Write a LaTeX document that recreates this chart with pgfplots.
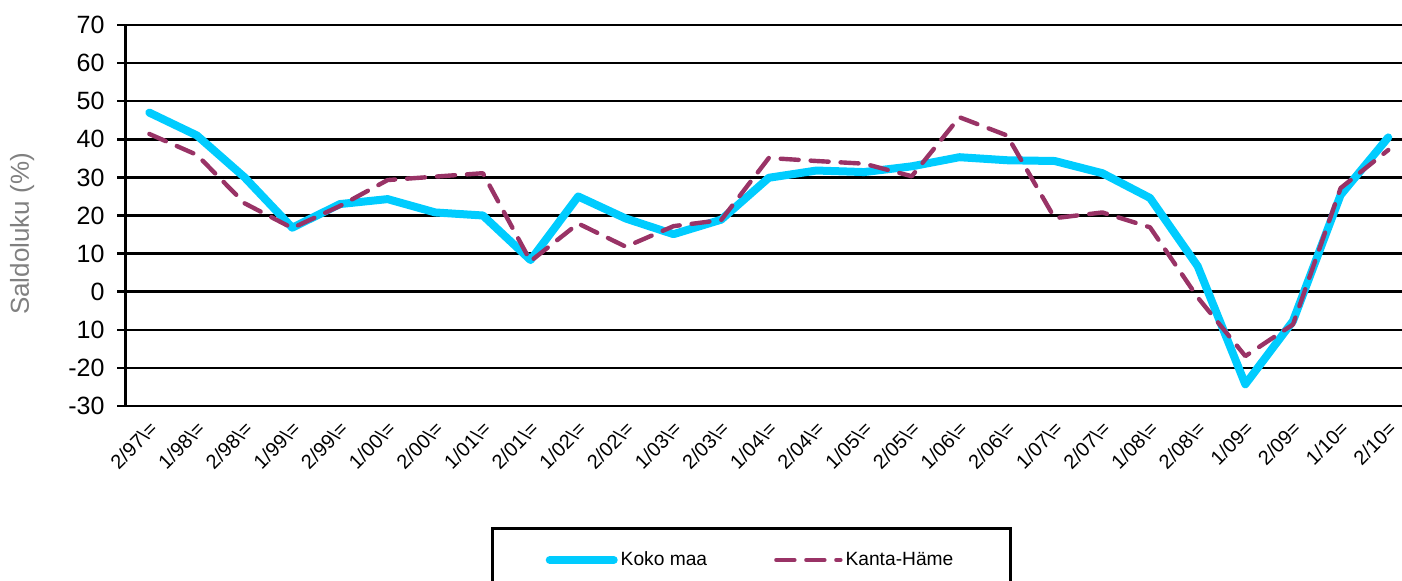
\documentclass[border=0pt]{standalone}
\usepackage{fontspec}
\setmainfont{Liberation Sans}
\usepackage{pgfplots}
\pgfplotsset{compat=1.18}
\definecolor{kokomaa}{RGB}{0,204,255}
\definecolor{kanta}{RGB}{153,51,102}
\definecolor{labelgray}{RGB}{128,128,128}
\newcommand{\lb}[1]{#1\textbackslash=}

\pgfplotstableread{
x koko kanta
0 47.0 41.4
1 41.0 35.9
2 30.0 23.2
3 16.8 16.7
4 23.0 22.5
5 24.3 29.3
6 20.8 30.2
7 20.0 31.1
8 8.3 8.0
9 25.0 17.9
10 19.2 11.8
11 15.1 17.2
12 18.9 18.8
13 29.9 35.1
14 31.8 34.3
15 31.4 33.6
16 32.9 30.3
17 35.3 45.8
18 34.5 41.0
19 34.3 19.3
20 31.1 20.8
21 24.6 16.9
22 6.7 -1.5
23 -24.3 -16.9
24 -7.7 -8.6
25 25.4 27.2
26 40.5 37.2
}\saldo

\begin{document}
\begin{tikzpicture}
\begin{axis}[
  at={(62.75pt,87pt)}, anchor=south west,
  scale only axis, width=643.3pt, height=190.5pt,
  xmin=-0.5, xmax=26.5, ymin=-30, ymax=70,
  axis x line*=bottom, axis y line*=left,
  x axis line style={line width=1.25pt},
  y axis line style={line width=1.6pt},
  ytick={-30,-20,...,70},
  yticklabels={-30,-20,10,0,10,20,30,40,50,60,70},
  xtick={0,...,26},
  xticklabels={{\lb{2/97}},{\lb{1/98}},{\lb{2/98}},{\lb{1/99}},{\lb{2/99}},{\lb{1/00}},{\lb{2/00}},{\lb{1/01}},{\lb{2/01}},{\lb{1/02}},{\lb{2/02}},{\lb{1/03}},{\lb{2/03}},{\lb{1/04}},{\lb{2/04}},{\lb{1/05}},{\lb{2/05}},{\lb{1/06}},{\lb{2/06}},{\lb{1/07}},{\lb{2/07}},{\lb{1/08}},{\lb{2/08}},{1/09=},{2/09=},{1/10=},{2/10=}},
  ymajorgrids,
  major grid style={black, line width=1.25pt},
  tick align=outside,
  major tick length=4pt,
  ytick style={black, line width=1.25pt},
  xtick style={draw=none},
  yticklabel style={font=\fontsize{12.5}{14}\selectfont, xshift=-3pt},
  xticklabel style={font=\fontsize{10}{12}\selectfont, rotate=45, anchor=east, yshift=-5.5pt, xshift=1pt},
  ylabel={Saldoluku (\%)},
  every axis y label/.style={at={(axis description cs:-0.0804,0.4514)}, rotate=90, anchor=center, font=\fontsize{13}{15}\selectfont, text=labelgray},
  legend columns=2,
  legend style={at={(axis description cs:0.4862,-0.4042)}, anchor=center, draw=black, line width=1.5pt,
    minimum width=259pt, minimum height=32pt, font=\fontsize{9.6}{11}\selectfont,
    nodes={minimum width=0pt, minimum height=0pt, inner sep=1.5pt},
    /tikz/every even column/.append style={column sep=32pt}},
  legend image code/.code={\draw[#1] (0pt,0pt) -- (32pt,0pt);},
]
\addplot[kokomaa, line width=4pt, line join=round, line cap=round] table[x=x, y=koko] {\saldo};
\addlegendentry{Koko maa}
\addplot[kanta, line width=2.2pt, line cap=round, line join=round, dash pattern=on 9pt off 6pt] table[x=x, y=kanta] {\saldo};
\addlegendentry{Kanta-Häme}
\end{axis}
\pgfresetboundingbox
\path[use as bounding box] (0,0) rectangle (701pt,290pt);
\end{tikzpicture}
\end{document}
